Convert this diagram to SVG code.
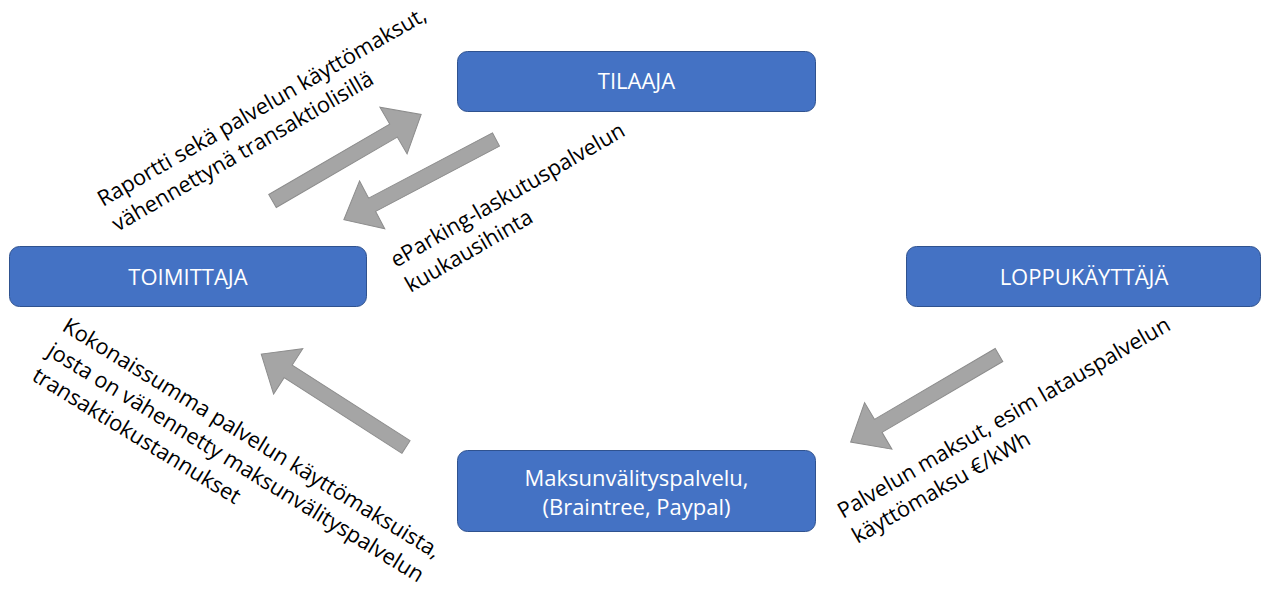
<svg xmlns="http://www.w3.org/2000/svg" width="1262" height="589" viewBox="0 0 1262 589">
<style>
.box{fill:#4472C4;stroke:#2F528F;stroke-width:1}
.lbl{font-family:"Open Sans","Liberation Sans",sans-serif;font-size:22px;fill:#FFFFFF;text-anchor:middle}
.txt{font-family:"Open Sans","Liberation Sans",sans-serif;font-size:21.8px;fill:#000000}
.arr{fill:#A5A5A5;stroke:#8C8C8C;stroke-width:1}
</style>
<defs>
<path id="blk" d="M0,-7.5 H140 V-27 L172,0 L140,27 V7.5 H0 Z"/>
</defs>
<rect x="0" y="0" width="1262" height="589" fill="#FFFFFF"/>
<g id="tilaaja">
<rect class="box" x="457.5" y="51.5" width="358" height="60" rx="10"/>
<text class="lbl" x="636.5" y="89">TILAAJA</text>
</g>
<g id="toimittaja">
<rect class="box" x="9.5" y="246.5" width="357" height="60" rx="10"/>
<text class="lbl" x="188" y="285">TOIMITTAJA</text>
</g>
<g id="loppukayttaja">
<rect class="box" x="906.5" y="246.5" width="354" height="60" rx="10"/>
<text class="lbl" x="1084" y="285">LOPPUKÄYTTÄJÄ</text>
</g>
<g id="maksunvalitys">
<rect class="box" x="457.5" y="450.5" width="358" height="81" rx="10"/>
<text class="lbl" x="636.5" y="486">Maksunvälityspalvelu,</text>
<text class="lbl" x="636.5" y="515">(Braintree, Paypal)</text>
</g>
<g id="connectors">
<use href="#blk" class="arr" transform="translate(272.5,201) rotate(-30.2)"/>
<use href="#blk" class="arr" transform="translate(496,139.5) rotate(152.2)"/>
<use href="#blk" class="arr" transform="translate(406,447) rotate(-147.3)"/>
<use href="#blk" class="arr" transform="translate(999,355) rotate(149.6)"/>
</g>
<g id="labels">
<text class="txt" transform="translate(103,207) rotate(-30)"><tspan x="0" y="0">Raportti sekä palvelun käyttömaksut,</tspan><tspan x="0" y="29">vähennettynä transaktiolisillä</tspan></text>
<text class="txt" transform="translate(396,268) rotate(-30)"><tspan x="0" y="0">eParking-laskutuspalvelun</tspan><tspan x="0" y="29">kuukausihinta</tspan></text>
<text class="txt" transform="translate(61,330) rotate(31.5)"><tspan x="0" y="0">Kokonaissumma palvelun käyttömaksuista,</tspan><tspan x="0" y="29">josta on vähennetty maksunvälityspalvelun</tspan><tspan x="0" y="58">transaktiokustannukset</tspan></text>
<text class="txt" transform="translate(843,519) rotate(-30)"><tspan x="0" y="0">Palvelun maksut, esim latauspalvelun</tspan><tspan x="0" y="29">käyttömaksu €/kWh</tspan></text>
</g>
</svg>
